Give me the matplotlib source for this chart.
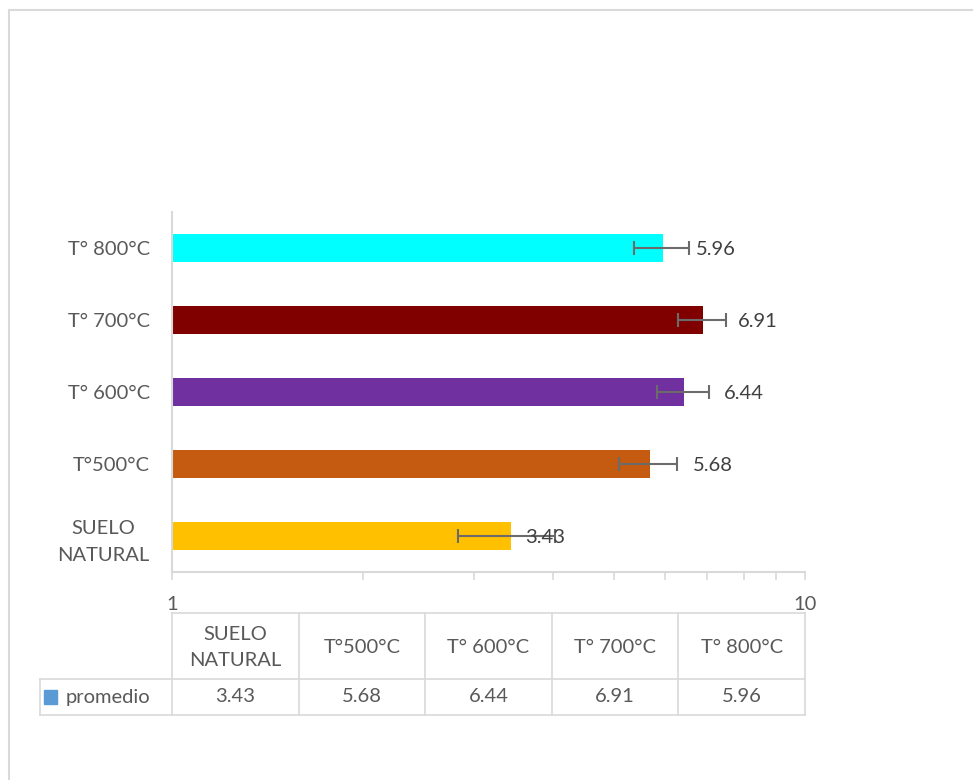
import matplotlib.pyplot as plt
from matplotlib.patches import Rectangle
from matplotlib.ticker import LogLocator, NullFormatter, FixedLocator

# datos
categorias = ['SUELO\nNATURAL', 'T°500°C', 'T° 600°C', 'T° 700°C', 'T° 800°C']
promedio = [3.43, 5.68, 6.44, 6.91, 5.96]
error = [0.6, 0.6, 0.6, 0.6, 0.6]
colores = ['#ffc000', '#c55a11', '#7030a0', '#800000', '#00ffff']
serie = 'promedio'

plt.rcParams['font.family'] = ['Lato', 'DejaVu Sans']
gris_txt = '#595959'
gris_linea = '#d9d9d9'
fs = 14.5

W, H = 973, 780
fig = plt.figure(figsize=(W / 100, H / 100), dpi=100)

# marco exterior
fig.patches.append(Rectangle((9 / W, -0.1), 1.2, (H - 10) / H + 0.1, transform=fig.transFigure,
                             fill=False, edgecolor=gris_linea, linewidth=1.5))

x0, x1 = 172, 805
ax = fig.add_axes([x0 / W, 1 - 572 / H, (x1 - x0) / W, 360 / H])
y = range(len(categorias))
ax.barh(y, promedio, height=0.4, color=colores, left=0)
ax.errorbar(promedio, y, xerr=error, fmt='none', ecolor='#6b6b6b', elinewidth=1.5,
            capsize=5, capthick=1.5)

# etiquetas de datos
desplaz = [10, 31, 29, 25, 24]
for i, v in enumerate(promedio):
    ax.annotate(f'{v:.2f}', (v, i), xytext=(desplaz[i], -1), textcoords='offset points',
                ha='left', va='center', fontsize=fs, color='#404040')

ax.set_xscale('log')
ax.set_xlim(1, 10)
ax.set_ylim(-0.5, len(categorias) - 0.5)
ax.set_yticks(list(y))
ax.set_yticklabels(categorias, fontsize=fs, color=gris_txt, multialignment='center',
                   linespacing=1.65)
ax.tick_params(axis='y', length=0, pad=16)
ax.xaxis.set_major_locator(FixedLocator([1, 10]))
ax.xaxis.set_minor_locator(LogLocator(base=10, subs=range(2, 10)))
ax.xaxis.set_minor_formatter(NullFormatter())
ax.set_xticklabels(['1', '10'])
ax.tick_params(axis='x', which='both', length=6, color=gris_linea, width=1.2,
               labelsize=fs, labelcolor=gris_txt, pad=11)
for s in ['top', 'right']:
    ax.spines[s].set_visible(False)
for s in ['left', 'bottom']:
    ax.spines[s].set_color(gris_linea)
    ax.spines[s].set_linewidth(1.5)

# tabla de datos
tab = fig.add_axes([x0 / W, 1 - 715 / H, (x1 - x0) / W, 102 / H])
tab.set_xlim(0, len(categorias))
tab.set_ylim(2, 0)
tab.axis('off')
ancho_col = (x1 - x0) / len(categorias)
izq = -(x0 - 40) / ancho_col
h1 = 66 / 102 * 2
kw = dict(color=gris_linea, lw=1.2, clip_on=False)
tab.plot([0, len(categorias)], [0, 0], **kw)
tab.plot([izq, len(categorias)], [h1, h1], **kw)
tab.plot([izq, len(categorias)], [2, 2], **kw)
for c in range(len(categorias) + 1):
    tab.plot([c, c], [0, 2], **kw)
tab.plot([izq, izq], [h1, 2], **kw)
for c, (cat, v) in enumerate(zip(categorias, promedio)):
    tab.text(c + 0.5, h1 / 2 + 0.03, cat, ha='center', va='center', fontsize=fs, color=gris_txt,
             multialignment='center', linespacing=1.65)
    tab.text(c + 0.5, (h1 + 2) / 2, f'{v:.2f}', ha='center', va='center', fontsize=fs,
             color=gris_txt)
tab.add_patch(Rectangle((izq + 0.035, (h1 + 2) / 2 - 0.13), 0.1, 0.26, color='#5b9bd5',
                        clip_on=False))
tab.text(izq + 0.2, (h1 + 2) / 2, serie, ha='left', va='center', fontsize=fs, color=gris_txt)

fig.savefig('out.png', dpi=100)
